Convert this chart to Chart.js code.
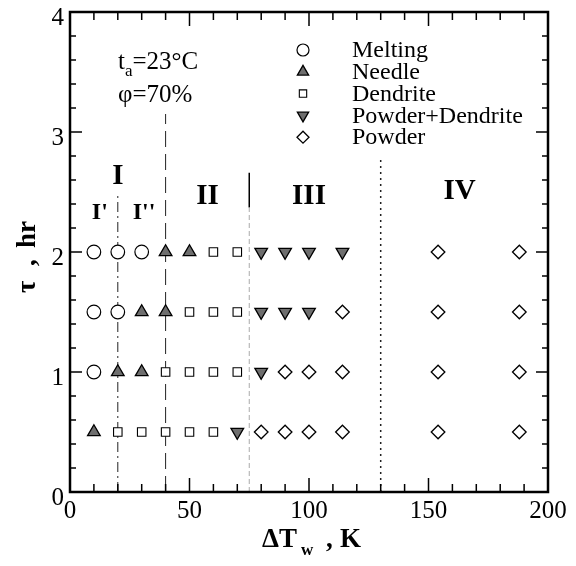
<!DOCTYPE html>
<html>
<head>
<meta charset="utf-8">
<script src="https://cdn.jsdelivr.net/npm/chart.js@4.4.1/dist/chart.umd.min.js"></script>
<style>
  html, body { margin: 0; padding: 0; background: #fff; }
  #wrap { width: 576px; height: 566px; }
</style>
</head>
<body>
<div id="wrap"><canvas id="chart" width="576" height="566"></canvas></div>
<script>
// wall temperature difference (K) of each test column
const deltaT = [10, 20, 30, 40, 50, 60, 70, 80, 90, 100, 114, 154, 188]
// exposure time (hr) of each row
const tauRows = [2, 1.5, 1, 0.5]
// M melting, N needle, D dendrite, PD powder+dendrite, P powder
const row20 = ["M", "M", "M", "N", "N", "D", "D", "PD", "PD", "PD", "PD", "P", "P"]
const row15 = ["M", "M", "N", "N", "D", "D", "D", "PD", "PD", "PD", "P", "P", "P"]
const row10 = ["M", "N", "N", "D", "D", "D", "D", "PD", "P", "P", "P", "P", "P"]
const row05 = ["N", "D", "D", "D", "D", "D", "PD", "P", "P", "P", "P", "P", "P"]
const regimeRows = [row20, row15, row10, row05]

const regimeCodes = ["M", "N", "D", "PD", "P"]
const regimeNames = ["Melting", "Needle", "Dendrite", "Powder+Dendrite", "Powder"]

// region boundaries (x in K, from/to in hr)
const boundaryX = [20, 40, 75, 75, 130]
const boundaryFrom = [0, 0, 0, 2.37, 0]
const boundaryTo = [2.5, 3.15, 2.37, 2.66, 2.77]

const regionText = ["I", "I'", "I''", "II", "III", "IV"]
const regionX = [20, 12.5, 31, 57.5, 100, 163]
const regionY = [2.63, 2.33, 2.33, 2.46, 2.46, 2.5]

const serif = "'Liberation Serif', 'DejaVu Serif', serif"

const markerStyle = {
  M: { pointStyle: "circle", radius: 6.8, rotation: 0, fill: "#fff", width: 1.2 },
  N: { pointStyle: "triangle", radius: 7.3, rotation: 0, fill: "#6e6e6e", width: 1.3 },
  D: { pointStyle: "rect", radius: 6, rotation: 0, fill: "#fff", width: 1.1 },
  PD: { pointStyle: "triangle", radius: 7.3, rotation: 180, fill: "#6e6e6e", width: 1.3 },
  P: { pointStyle: "rectRot", radius: 6.8, rotation: 0, fill: "#fff", width: 1.3 }
}

const boundaryStyle = [
  { color: "#222", dash: [10, 4, 2, 4], width: 1 },
  { color: "#222", dash: [16, 7], width: 1 },
  { color: "#aaa", dash: [5, 3], width: 1 },
  { color: "#000", dash: [], width: 1.5 },
  { color: "#222", dash: [2, 4], width: 1.5 }
]

function pointsFor(code) {
  const pts = []
  regimeRows.forEach((row, r) => {
    row.forEach((c, i) => {
      if (c === code) pts.push({ x: deltaT[i], y: tauRows[r] })
    })
  })
  return pts
}

const datasets = regimeCodes.map((code, k) => {
  const s = markerStyle[code]
  return {
    label: regimeNames[k],
    data: pointsFor(code),
    order: 1,
    pointStyle: s.pointStyle,
    pointRadius: s.radius,
    pointRotation: s.rotation,
    pointBackgroundColor: s.fill,
    pointBorderColor: "#000",
    pointBorderWidth: s.width
  }
})

boundaryX.forEach((bx, i) => {
  const st = boundaryStyle[i]
  datasets.push({
    label: "boundary" + i,
    data: [{ x: bx, y: boundaryFrom[i] }, { x: bx, y: boundaryTo[i] }],
    showLine: true,
    order: 2,
    pointRadius: 0,
    borderColor: st.color,
    borderDash: st.dash,
    borderWidth: st.width
  })
})

const decorations = {
  id: "decorations",
  afterDatasetsDraw(chart) {
    const { ctx, chartArea: a, scales: { x, y } } = chart
    ctx.save()

    // inward ticks on all four sides
    ctx.strokeStyle = "#000"
    ctx.lineWidth = 1.5
    ctx.beginPath()
    for (let i = 0; i <= 20; i++) {
      const px = x.getPixelForValue(i * 10)
      const len = i % 5 === 0 ? 14 : 8
      ctx.moveTo(px, a.bottom); ctx.lineTo(px, a.bottom - len)
      ctx.moveTo(px, a.top); ctx.lineTo(px, a.top + len)
    }
    for (let i = 0; i <= 20; i++) {
      const py = y.getPixelForValue(i * 0.2)
      const len = i % 5 === 0 ? 12 : 6
      ctx.moveTo(a.left, py); ctx.lineTo(a.left + len, py)
      ctx.moveTo(a.right, py); ctx.lineTo(a.right - len, py)
    }
    ctx.stroke()
    ctx.lineWidth = 2.5
    ctx.strokeRect(a.left, a.top, a.width, a.height)

    // region labels
    ctx.fillStyle = "#000"
    ctx.textAlign = "center"
    ctx.textBaseline = "middle"
    regionText.forEach((t, i) => {
      const big = t.indexOf("'") < 0
      ctx.font = "bold " + (big ? 29 : 24) + "px " + serif
      ctx.fillText(t, x.getPixelForValue(regionX[i]), y.getPixelForValue(regionY[i]))
    })

    // conditions
    ctx.textAlign = "left"
    ctx.textBaseline = "alphabetic"
    let tx = a.left + 48
    ctx.font = "25px " + serif
    ctx.fillText("t", tx, 69)
    tx += ctx.measureText("t").width
    ctx.font = "17px " + serif
    ctx.fillText("a", tx, 76)
    tx += ctx.measureText("a").width
    ctx.font = "25px " + serif
    ctx.fillText("=23°C", tx, 69)
    ctx.fillText("φ=70%", a.left + 48, 102)

    // legend
    const lx = a.left + 233
    let ly = a.top + 38
    regimeCodes.forEach((code, k) => {
      const s = markerStyle[code]
      ctx.fillStyle = s.fill
      ctx.strokeStyle = "#000"
      ctx.lineWidth = s.width
      Chart.helpers.drawPoint(ctx, { pointStyle: s.pointStyle, radius: s.radius - 0.8, rotation: s.rotation, borderWidth: s.width }, lx, ly)
      ctx.fillStyle = "#000"
      ctx.font = "24px " + serif
      ctx.textBaseline = "middle"
      ctx.fillText(regimeNames[k], lx + 49, ly + 1)
      ly += 21.8
    })

    // x axis title: ΔT_w , K
    ctx.textBaseline = "alphabetic"
    const bold = "bold 27px " + serif
    const sub = "bold 17px " + serif
    ctx.font = bold
    ctx.fillText("ΔT", 262, 547)
    const wDT = ctx.measureText("ΔT").width
    ctx.font = sub
    ctx.fillText("w", 262 + wDT + 4, 555)
    ctx.font = bold
    ctx.fillText(",", 326, 547)
    ctx.fillText("K", 340, 547)

    // y axis title: τ , hr (rotated)
    ctx.translate(35, 293)
    ctx.rotate(-Math.PI / 2)
    ctx.font = bold
    ctx.fillText("τ", 0, 0)
    ctx.fillText(",", 27, 0)
    ctx.fillText("hr", 45, 0)
    ctx.restore()
  }
}

new Chart(document.getElementById("chart"), {
  type: "scatter",
  data: { datasets: datasets },
  plugins: [decorations],
  options: {
    responsive: false,
    animation: false,
    devicePixelRatio: 1,
    layout: { padding: { top: 12, right: 28, left: 0, bottom: 0 } },
    plugins: { legend: { display: false }, tooltip: { enabled: false } },
    scales: {
      x: {
        type: "linear",
        min: 0,
        max: 200,
        grid: { display: false, drawTicks: false },
        border: { display: false },
        ticks: { stepSize: 50, padding: 4, color: "#000", font: { family: serif, size: 25 } },
        afterFit(s) { s.height = 74; s.paddingLeft = 0; s.paddingRight = 0 }
      },
      y: {
        type: "linear",
        min: 0,
        max: 4,
        grid: { display: false, drawTicks: false },
        border: { display: false },
        ticks: { stepSize: 1, padding: 6, labelOffset: 6, color: "#000", font: { family: serif, size: 25 } },
        afterFit(s) { s.width = 70; s.paddingTop = 0; s.paddingBottom = 0 }
      }
    }
  }
})
</script>
</body>
</html>
